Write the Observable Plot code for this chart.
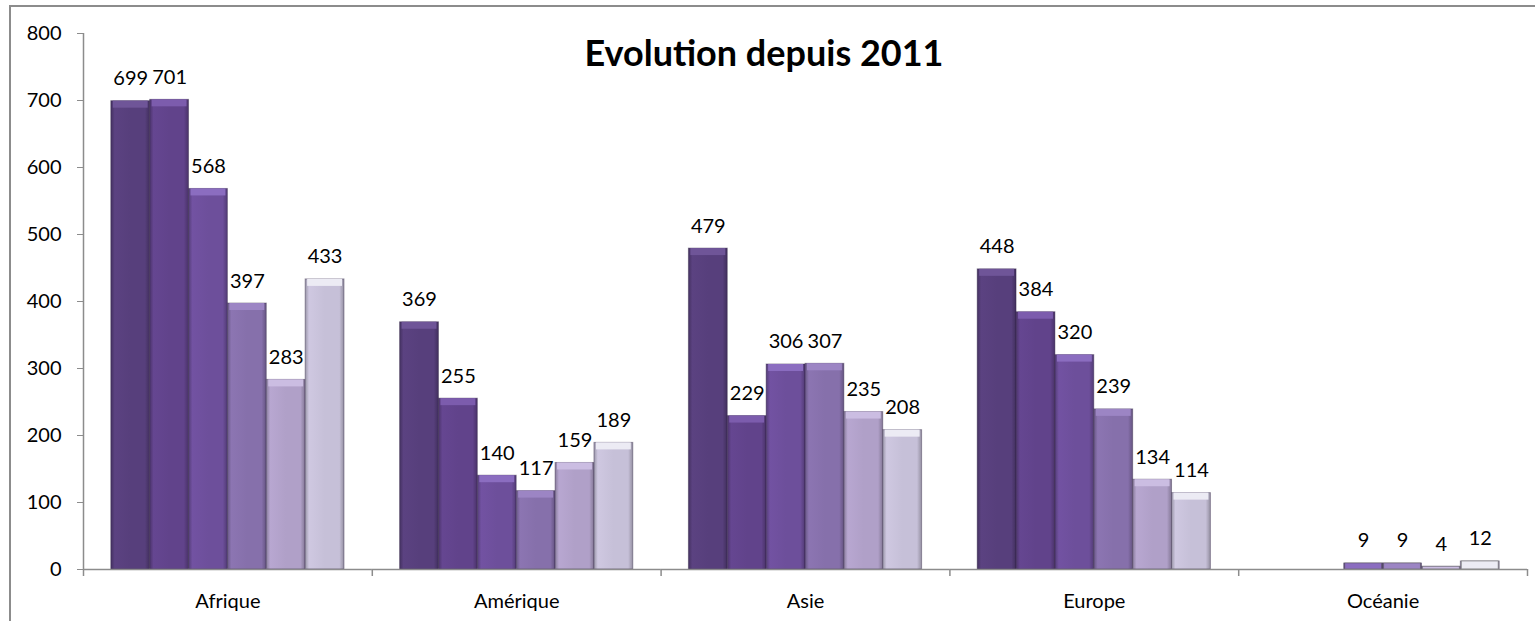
<!DOCTYPE html>
<html><head><meta charset="utf-8">
<script src="https://cdn.jsdelivr.net/npm/d3@7"></script>
<script src="https://cdn.jsdelivr.net/npm/@observablehq/plot@0.6"></script>
<style>
body{margin:0;background:#fff;}
#wrap{position:relative;width:1535px;height:621px;overflow:hidden;font-family:Lato,"Open Sans",sans-serif;}
#border{position:absolute;left:9px;top:5px;width:1600px;height:700px;border:2px solid #8c8c8c;box-sizing:border-box;}
#title{position:absolute;left:0;width:1528px;top:30px;text-align:center;font:bold 36px Lato,"Open Sans",sans-serif;color:#000;line-height:44px;}
#chart{position:absolute;left:0;top:0;}
</style></head><body>
<div id="wrap">
<svg width="0" height="0" style="position:absolute"><defs id="defs"></defs></svg>
<div id="border"></div>
<div id="chart"></div>
<div id="title">Evolution depuis 2011</div>
</div>
<script>
const continents = ["Afrique", "Amérique", "Asie", "Europe", "Océanie"];
const years = ["2011", "2012", "2013", "2014", "2015", "2016"];
const v2011 = [699, 369, 479, 448, null];
const v2012 = [701, 255, 229, 384, null];
const v2013 = [568, 140, 306, 320, 9];
const v2014 = [397, 117, 307, 239, 9];
const v2015 = [283, 159, 235, 134, 4];
const v2016 = [433, 189, 208, 114, 12];
const yTicks = [0, 100, 200, 300, 400, 500, 600, 700, 800];
const baseColors = ["#573f7c", "#61438b", "#6d4f9b", "#8670ab", "#b0a0c8", "#c6c0d8"];
const capColors = ["#6f5598", "#7c5cad", "#8b6dc0", "#9c85c4", "#cbbde2", "#ecebf4"];

const seriesValues = [v2011, v2012, v2013, v2014, v2015, v2016];
const data = [];
years.forEach((yr, i) => continents.forEach((c, j) => {
  const v = seriesValues[i][j];
  if (v != null) data.push({continent: c, year: yr, value: v});
}));

// gradients for bevelled bars
const defs = d3.select("#defs");
baseColors.forEach((col, i) => {
  const c = d3.color(col);
  const g = defs.append("linearGradient").attr("id", "g" + i).attr("x1", "0").attr("x2", "1").attr("y1", "0").attr("y2", "0");
  g.append("stop").attr("offset", "0%").attr("stop-color", c.darker(0.7));
  g.append("stop").attr("offset", "10%").attr("stop-color", c.brighter(0.12));
  g.append("stop").attr("offset", "50%").attr("stop-color", c);
  g.append("stop").attr("offset", "88%").attr("stop-color", c);
  g.append("stop").attr("offset", "100%").attr("stop-color", c.darker(0.8));
});

const W = 1535, H = 621, mL = 83, mR = 8, mT = 33, mB = 52;
const po = 0.715;
const facetW = (W - mL - mR) / continents.length;
const step = facetW / (years.length + 2 * po);
const edge = po * step + step / 2;

const font = "Lato, 'Open Sans', sans-serif";
const gray = "#8c8c8c";
const chart = Plot.plot({
  width: W, height: H,
  marginLeft: mL, marginRight: mR, marginTop: mT, marginBottom: mB,
  style: {fontFamily: font, fontSize: "20px", color: "#000", background: "transparent", overflow: "visible"},
  fx: {domain: continents, padding: 0, round: false, label: null, axis: "bottom", tickSize: 0, tickPadding: 24},
  x: {domain: years, paddingInner: 0, paddingOuter: po, round: false, axis: null},
  y: {domain: [0, 800], ticks: yTicks, tickSize: 6, tickPadding: 16, label: null},
  color: {domain: years, range: years.map((_, i) => `url(#g${i})`)},
  marks: [
    Plot.barY(data, {fx: "continent", x: "year", y: "value", fill: "year", stroke: "#2e2040", strokeOpacity: 0.4, strokeWidth: 1}),
    ...years.map((yr, i) => Plot.barY(data.filter(d => d.year === yr && d.value > 15), {
      fx: "continent", x: "year", y1: "value", y2: "value", insetBottom: -7, insetLeft: 2, insetRight: 2,
      fill: capColors[i]
    })),
    ...years.map((yr, i) => Plot.barY(data.filter(d => d.year === yr && d.value <= 15), {
      fx: "continent", x: "year", y: "value", insetLeft: 1, insetRight: 1,
      fill: capColors[i], stroke: "#555", strokeOpacity: 0.5
    })),
    Plot.ruleY([0], {stroke: gray, strokeWidth: 1.5}),
    Plot.ruleX(continents.map(c => ({continent: c, year: years[0]})), {fx: "continent", x: "year", dx: -edge, y1: 0, y2: 0, insetBottom: -7, stroke: gray, strokeWidth: 1.5}),
    Plot.ruleX([{continent: continents[4], year: years[5]}], {fx: "continent", x: "year", dx: edge, y1: 0, y2: 0, insetBottom: -7, stroke: gray, strokeWidth: 1.5}),
    Plot.ruleX([{continent: continents[0], year: years[0]}], {fx: "continent", x: "year", dx: -edge, y1: 0, y2: 800, stroke: gray, strokeWidth: 1.5}),
    Plot.text(data, {fx: "continent", x: "year", y: "value", text: d => String(d.value), dy: -16, lineAnchor: "bottom", fontSize: 20, fill: "#000"})
  ]
});
d3.select(chart).selectAll('[aria-label="y-axis tick"] path, [aria-label="y-axis tick"]').attr("stroke", gray);
document.getElementById("chart").appendChild(chart);
</script>
</body></html>
